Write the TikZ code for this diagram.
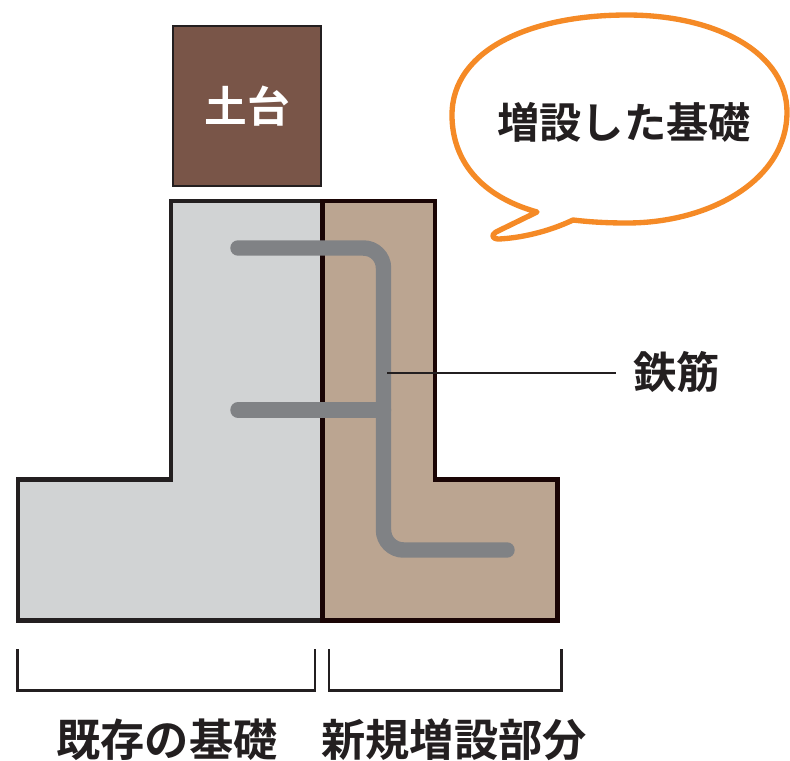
\documentclass[tikz,border=0pt]{standalone}
\usepackage{fontspec}
\newfontfamily\cjkbold[BoldFont={Noto Sans CJK JP Bold}]{Noto Sans CJK JP}
\definecolor{ink}{HTML}{231F20}
\definecolor{inkb}{HTML}{1A0505}
\definecolor{oldc}{HTML}{D1D3D4}
\definecolor{newc}{HTML}{BBA591}
\definecolor{woodc}{HTML}{795548}
\definecolor{rebar}{HTML}{808285}
\definecolor{balloon}{HTML}{F58A26}
\tikzset{
  px/.style={x=0.75pt,y=-0.75pt},
  label/.style={font=\cjkbold\bfseries\fontsize{32.5}{36}\selectfont,text=ink,inner sep=0pt,anchor=center},
  wall/.style={line width=3.3pt,line join=miter},
  rod/.style={draw=rebar,line width=11.6pt,line cap=round,rounded corners=15pt},
  thin/.style={draw=ink,line width=1.8pt},
}
\begin{document}
\begin{tikzpicture}[px]
\useasboundingbox (0,0) rectangle (790,761);
% existing foundation
\draw[wall,draw=ink,fill=oldc] (322.5,201) -- (171,201) -- (171,479.5) -- (18,479.5) -- (18,620.5) -- (322.5,620.5) -- cycle;
% added foundation
\draw[wall,draw=inkb,fill=newc] (322.5,201) -- (435,201) -- (435,479.5) -- (557.5,479.5) -- (557.5,620.5) -- (322.5,620.5) -- cycle;
% rebar
\coordinate (r1) at (238,248);
\coordinate (r2) at (383.5,248);
\coordinate (r3) at (383.5,550);
\coordinate (r4) at (507,550);
\coordinate (r5) at (238,410);
\coordinate (r6) at (383.5,410);
\draw[rod] (r1) -- (r2) -- (r3) -- (r4);
\draw[rod,rounded corners=0pt] (r5) -- (r6);
% sill
\node[draw=ink,line width=2.2pt,fill=woodc,minimum width=111pt,minimum height=120pt,inner sep=0pt,
  font=\cjkbold\bfseries\fontsize{32}{36}\selectfont,text=white] (sill) at (247,106) {\raisebox{1pt}{土台}};
% balloon
\draw[balloon,line width=4pt,fill=white,line join=round]
  (537,212) .. controls (480,196) and (452,160) .. (452,115)
  .. controls (452,50) and (530,15) .. (627,15)
  .. controls (720,15) and (787,55) .. (787,112)
  .. controls (787,180) and (710,223) .. (627,223)
  .. controls (607,223) and (590,222) .. (573,220)
  .. controls (548,232) and (520,238) .. (499,239)
  .. controls (492,239) and (491,235) .. (496,232)
  -- cycle;
\node[label,font=\cjkbold\bfseries\fontsize{31.7}{36}\selectfont] (bt) at (624,122) {増設した基礎};
% leader
\node[label,anchor=west] (rebarlabel) at (633,372) {鉄筋};
\coordinate (l1) at (387,373);
\coordinate (l2) at (616,373);
\draw[thin] (l1) -- (l2);
% brackets
\coordinate (a1) at (17.5,649);
\coordinate (a2) at (17.5,690.5);
\coordinate (a3) at (315,690.5);
\coordinate (a4) at (315,649);
\coordinate (b1) at (329,649);
\coordinate (b2) at (329,690.5);
\coordinate (b3) at (561.5,690.5);
\coordinate (b4) at (561.5,649);
\draw[thin] (a1) -- (a2) -- (a3) -- (a4);
\draw[thin] (b1) -- (b2) -- (b3) -- (b4);
\node[label,font=\cjkbold\bfseries\fontsize{33.2}{36}\selectfont] (oldl) at (167,740) {既存の基礎};
\node[label,font=\cjkbold\bfseries\fontsize{33.2}{36}\selectfont] (newl) at (454,740) {新規増設部分};
\end{tikzpicture}
\end{document}
